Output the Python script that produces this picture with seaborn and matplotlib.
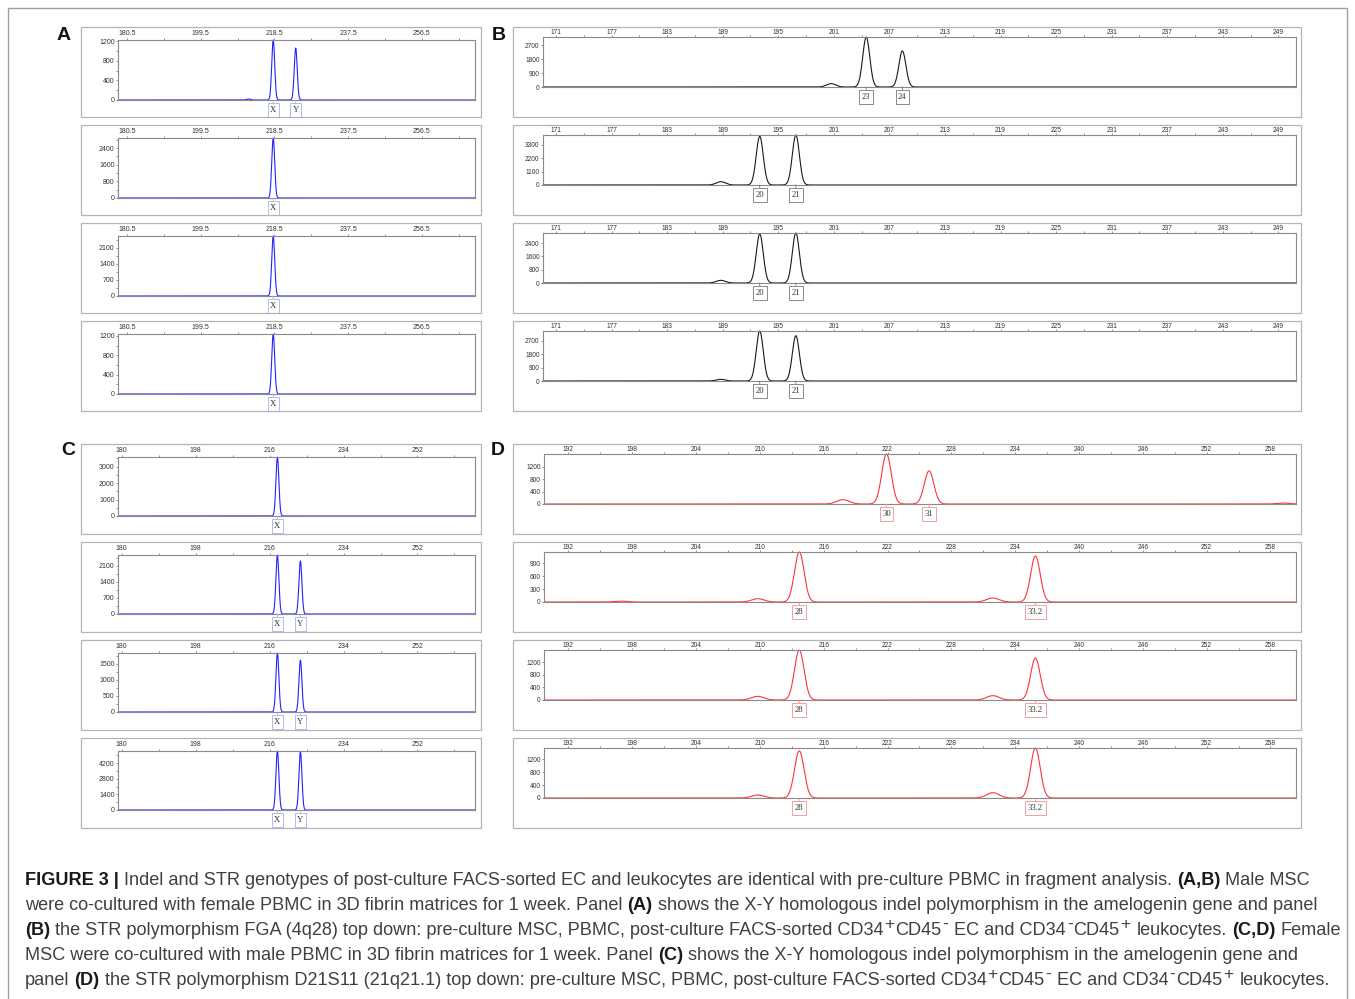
import numpy as np
import pandas as pd
import matplotlib
matplotlib.use("Agg")
import matplotlib.pyplot as plt
import seaborn as sns
from matplotlib.patches import Rectangle
from matplotlib import font_manager
from matplotlib.ticker import FixedLocator


# DATA (fragment size in bp, peak height in RFU), rows top down:
# pre-culture MSC, PBMC, post-culture EC, post-culture leukocytes

# A: amelogenin, male MSC + female PBMC
A_XTICKS = [180.5, 199.5, 218.5, 237.5, 256.5]
A_YTICKS = [[0, 400, 800, 1200], [0, 800, 1600, 2400],
            [0, 700, 1400, 2100], [0, 400, 800, 1200]]
A_YTOP = [1230, 2890, 2620, 1240]
A_ALLELES = [["X", "Y"], ["X"], ["X"], ["X"]]
A_SIZES = [[218.2, 224.0], [218.2], [218.2], [218.2]]
A_HEIGHTS = [[1230, 1065], [2890], [2620], [1240]]
A_ART_SIZES = [[211.9], [], [], []]
A_ART_HEIGHTS = [[20], [], [], []]

# B: FGA (4q28)
B_XTICKS = [171, 177, 183, 189, 195, 201, 207, 213, 219, 225, 231, 237, 243, 249]
B_YTICKS = [[0, 900, 1800, 2700], [0, 1100, 2200, 3300],
            [0, 800, 1600, 2400], [0, 900, 1800, 2700]]
B_YTOP = [3235, 4100, 3000, 3350]
B_ALLELES = [["23", "24"], ["20", "21"], ["20", "21"], ["20", "21"]]
B_SIZES = [[204.5, 208.4], [193.0, 196.9], [193.0, 196.9], [193.0, 196.9]]
B_HEIGHTS = [[3230, 2330], [3990, 4100], [2950, 3000], [3350, 3035]]
B_ART_SIZES = [[200.7], [188.8], [188.8], [188.8]]
B_ART_HEIGHTS = [[220], [275], [160], [110]]

# C: amelogenin, female MSC + male PBMC
C_XTICKS = [180, 198, 216, 234, 252]
C_YTICKS = [[0, 1000, 2000, 3000], [0, 700, 1400, 2100],
            [0, 500, 1000, 1500], [0, 1400, 2800, 4200]]
C_YTOP = [3590, 2580, 1840, 5300]
C_ALLELES = [["X"], ["X", "Y"], ["X", "Y"], ["X", "Y"]]
C_SIZES = [[217.9], [217.9, 223.5], [217.9, 223.5], [217.9, 223.5]]
C_HEIGHTS = [[3590], [2580, 2320], [1840, 1620], [5300, 5250]]
C_ART_SIZES = [[], [], [], []]
C_ART_HEIGHTS = [[], [], [], []]

# D: D21S11 (21q21.1)
D_XTICKS = [192, 198, 204, 210, 216, 222, 228, 234, 240, 246, 252, 258]
D_YTICKS = [[0, 400, 800, 1200], [0, 300, 600, 900],
            [0, 400, 800, 1200], [0, 400, 800, 1200]]
D_YTOP = [1610, 1166, 1580, 1550]
D_ALLELES = [["30", "31"], ["28", "33.2"], ["28", "33.2"], ["28", "33.2"]]
D_SIZES = [[221.9, 225.9], [213.7, 235.9], [213.7, 235.9], [213.7, 235.9]]
D_HEIGHTS = [[1610, 1065], [1166, 1072], [1580, 1326], [1460, 1550]]
D_ART_SIZES = [[217.8, 259.2], [209.8, 231.9, 197.0], [209.8, 231.9], [209.8, 231.9]]
D_ART_HEIGHTS = [[140, 30], [78, 94, 20], [116, 137], [93, 165]]

CAPTION = [
    [("b", "FIGURE 3 |"),
     ("r", " Indel and STR genotypes of post-culture FACS-sorted EC and leukocytes "
           "are identical with pre-culture PBMC in fragment analysis. "),
     ("b", "(A,B)"), ("r", " Male MSC")],
    [("r", "were co-cultured with female PBMC in 3D fibrin matrices for 1 week. Panel "),
     ("b", "(A)"),
     ("r", " shows the X-Y homologous indel polymorphism in the amelogenin gene and panel")],
    [("b", "(B)"),
     ("r", " the STR polymorphism FGA (4q28) top down: pre-culture MSC, PBMC, "
           "post-culture FACS-sorted CD34"),
     ("s", "+"), ("r", "CD45"), ("s", "-"), ("r", " EC and CD34"), ("s", "-"),
     ("r", "CD45"), ("s", "+"), ("r", " leukocytes. "), ("b", "(C,D)"), ("r", " Female")],
    [("r", "MSC were co-cultured with male PBMC in 3D fibrin matrices for 1 week. Panel "),
     ("b", "(C)"),
     ("r", " shows the X-Y homologous indel polymorphism in the amelogenin gene and")],
    [("r", "panel "), ("b", "(D)"),
     ("r", " the STR polymorphism D21S11 (21q21.1) top down: pre-culture MSC, PBMC, "
           "post-culture FACS-sorted CD34"),
     ("s", "+"), ("r", "CD45"), ("s", "-"), ("r", " EC and CD34"), ("s", "-"),
     ("r", "CD45"), ("s", "+"), ("r", " leukocytes.")],
]


# STYLE

W, H = 1355, 999

sns.set_theme(style="white")
plt.rcParams["font.family"] = ["Liberation Sans", "DejaVu Sans"]

installed = {f.name for f in font_manager.fontManager.ttflist}
NARROW = "Liberation Sans Narrow" if "Liberation Sans Narrow" in installed else "Liberation Sans"

# pixel geometry of each panel (outer frame, inner plot area)
GEOM = {
    "A": dict(x=(81, 481), ax_x=(118, 475), tops=[27, 125, 223, 321], inner=(13, 73),
              xlim=(178.2, 270.2), color="#2323ff", box="#a8b0f0", sigma=0.38,
              tick_font="Liberation Sans", tick_size=5, xpad=0.4, minor_y=True,
              letter=(64, 35)),
    "B": dict(x=(513, 1301), ax_x=(543, 1296), tops=[27, 125, 223, 321], inner=(10, 60),
              xlim=(169.6, 250.9), color="#1a1a1a", box="#777777", sigma=0.38,
              tick_font=NARROW, tick_size=4.8, xpad=-0.6, minor_y=False,
              letter=(499, 35)),
    "C": dict(x=(81, 481), ax_x=(118, 475), tops=[444, 542, 640, 738], inner=(13, 72),
              xlim=(179.1, 266.0), color="#2323ff", box="#a8b0f0", sigma=0.36,
              tick_font="Liberation Sans", tick_size=5, xpad=0.4, minor_y=True,
              letter=(68, 451)),
    "D": dict(x=(513, 1301), ax_x=(544, 1296), tops=[444, 542, 640, 738], inner=(10, 60),
              xlim=(189.7, 260.4), color="#ff3535", box="#f09090", sigma=0.45,
              tick_font=NARROW, tick_size=4.8, xpad=-0.6, minor_y=False,
              letter=(498, 451)),
}

DATA = {
    "A": (A_XTICKS, A_YTICKS, A_YTOP, A_ALLELES, A_SIZES, A_HEIGHTS, A_ART_SIZES, A_ART_HEIGHTS),
    "B": (B_XTICKS, B_YTICKS, B_YTOP, B_ALLELES, B_SIZES, B_HEIGHTS, B_ART_SIZES, B_ART_HEIGHTS),
    "C": (C_XTICKS, C_YTICKS, C_YTOP, C_ALLELES, C_SIZES, C_HEIGHTS, C_ART_SIZES, C_ART_HEIGHTS),
    "D": (D_XTICKS, D_YTICKS, D_YTOP, D_ALLELES, D_SIZES, D_HEIGHTS, D_ART_SIZES, D_ART_HEIGHTS),
}


# HELPERS

def px_rect(x0, y0, x1, y1):
    return [x0 / W, 1 - y1 / H, (x1 - x0) / W, (y1 - y0) / H]


def midpoints(ticks, lo, hi):
    step = ticks[1] - ticks[0]
    pts = [t + step / 2 for t in [ticks[0] - step] + list(ticks)]
    return [p for p in pts if lo <= p <= hi]


def electropherogram(xs, sizes, heights, sigma):
    y = np.zeros_like(xs)
    for s, h in zip(sizes, heights):
        y += h * np.exp(-0.5 * ((xs - s) / sigma) ** 2)
    return y


# PANELS

def draw_panel(fig, key):

    g = GEOM[key]
    xticks, yticks, ytop, alleles, sizes, heights, art_s, art_h = DATA[key]

    fig.text(g["letter"][0] / W, 1 - g["letter"][1] / H, key,
             fontsize=14, fontweight="bold", ha="center", va="center",
             color="#111111")

    xs = np.linspace(g["xlim"][0], g["xlim"][1], 3000)

    for i, top in enumerate(g["tops"]):

        # outer frame of the trace
        x0, x1 = g["x"]
        fig.add_artist(Rectangle((x0 / W, 1 - (top + 90) / H), (x1 - x0) / W, 90 / H,
                                 transform=fig.transFigure, fill=False,
                                 ec="#b4b4b4", lw=0.9))

        ax = fig.add_axes(px_rect(g["ax_x"][0], top + g["inner"][0],
                                  g["ax_x"][1], top + g["inner"][1]))

        ys = electropherogram(xs, sizes[i], heights[i], g["sigma"])
        ys += electropherogram(xs, art_s[i], art_h[i], g["sigma"] * 1.3)

        df = pd.DataFrame({"size": xs, "rfu": ys})
        sns.lineplot(data=df, x="size", y="rfu", ax=ax, color=g["color"],
                     linewidth=0.8, estimator=None, sort=False)
        for ln in ax.lines:
            ln.set_clip_on(False)

        ax.set_xlim(*g["xlim"])
        ax.set_ylim(0, ytop[i])
        ax.set_xlabel("")
        ax.set_ylabel("")

        # size scale on top
        ax.xaxis.tick_top()
        ax.set_xticks(xticks)
        ax.set_xticklabels([f"{t:g}" for t in xticks])
        ax.xaxis.set_minor_locator(FixedLocator(midpoints(xticks, *g["xlim"])))

        ax.set_yticks(yticks[i])
        ax.set_yticklabels([str(t) for t in yticks[i]])
        if g["minor_y"]:
            ax.yaxis.set_minor_locator(FixedLocator(midpoints(yticks[i], 0, ytop[i])))

        ax.tick_params(axis="both", which="both", direction="out", length=1.6,
                       width=0.5, color="#666666", labelsize=g["tick_size"],
                       labelcolor="#333333", pad=0.8)
        ax.tick_params(axis="both", which="minor", length=1.1)
        ax.tick_params(axis="x", which="both", top=True, bottom=False, pad=g["xpad"])
        ax.tick_params(axis="y", which="both", left=True, right=False)
        for lab in ax.get_xticklabels() + ax.get_yticklabels():
            lab.set_fontfamily(g["tick_font"])

        for s in ax.spines.values():
            s.set_color("#8a8a8a")
            s.set_linewidth(0.8)
        ax.set_facecolor("white")

        # allele call boxes under the peaks
        for lbl, pos in zip(alleles[i], sizes[i]):
            ax.annotate(lbl, xy=(pos, 0), xycoords="data",
                        xytext=(0, -10), textcoords="offset pixels",
                        ha="center", va="center", fontsize=6.2,
                        family="Liberation Serif", color="#333333",
                        annotation_clip=False,
                        bbox=dict(boxstyle="square,pad=0.3", fc="white",
                                  ec=g["box"], lw=0.6),
                        arrowprops=dict(arrowstyle="-", color=g["box"], lw=0.6,
                                        shrinkA=0, shrinkB=0))


# CAPTION

def text_width(fig, renderer, s, **kw):
    t = fig.text(0, 0, s, **kw)
    w = t.get_window_extent(renderer).width
    t.remove()
    return w


def draw_caption(fig):

    renderer = fig.canvas.get_renderer()

    styles = {
        "r": dict(family="Liberation Sans", fontweight="normal", color="#404040"),
        "b": dict(family="Liberation Sans", fontweight="bold", color="#1a1a1a"),
        "s": dict(family="Liberation Sans", fontweight="normal", color="#404040"),
    }
    scale = {"r": 1.0, "b": 1.0, "s": 0.95}
    sup_gap = 0.9

    def seg_width(kind, s, size):
        w = text_width(fig, renderer, s, fontsize=size * scale[kind], **styles[kind])
        return w + (2 * sup_gap if kind == "s" else 0)

    def line_width(line, size):
        space = seg_width("r", "a a", size) - seg_width("r", "aa", size)
        total = 0
        for kind, s in line:
            core = s.strip(" ")
            total += (len(s) - len(s.lstrip(" ")) + len(s) - len(s.rstrip(" "))) * space
            total += seg_width(kind, core, size)
        return total

    # fit the first line to its printed width
    size = 12.0 * 1288 / line_width(CAPTION[0], 12.0)

    space = seg_width("r", "a a", size) - seg_width("r", "aa", size)
    baseline = 885
    for line in CAPTION:
        x = 25
        for kind, s in line:
            core = s.strip(" ")
            x += (len(s) - len(s.lstrip(" "))) * space
            y = baseline - (6 if kind == "s" else 0)
            dx = sup_gap if kind == "s" else 0
            fig.text((x + dx) / W, 1 - y / H, core, fontsize=size * scale[kind],
                     va="baseline", ha="left", **styles[kind])
            x += seg_width(kind, core, size)
            x += (len(s) - len(s.rstrip(" "))) * space
        baseline += 25


# MAIN

def main():

    fig = plt.figure(figsize=(W / 100, H / 100), dpi=100)
    fig.patch.set_facecolor("white")

    fig.add_artist(Rectangle((8 / W, -0.01), (1347 - 8) / W, 1 - 8 / H + 0.01,
                             transform=fig.transFigure, fill=False,
                             ec="#a0a0a0", lw=1.0))

    for key in "ABCD":
        draw_panel(fig, key)

    draw_caption(fig)

    fig.savefig("out.png", dpi=100, facecolor="white")
    plt.close(fig)


if __name__ == "__main__":
    main()
